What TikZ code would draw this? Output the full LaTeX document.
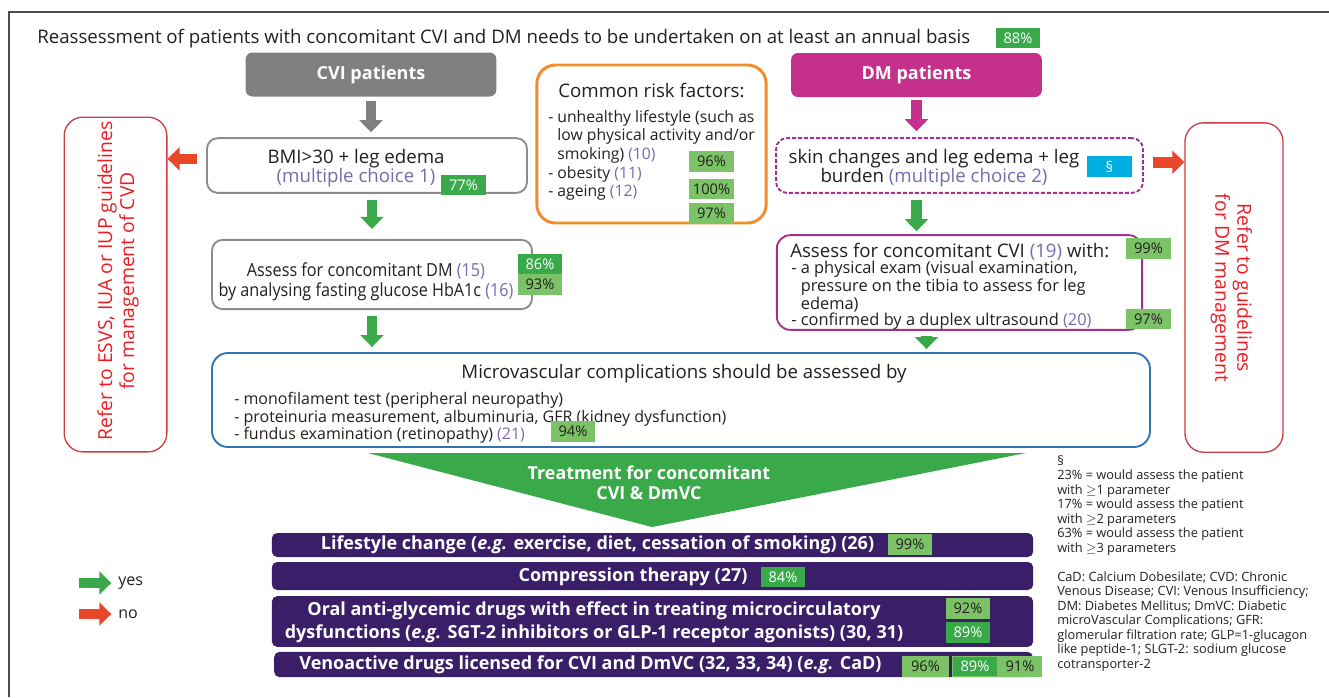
\documentclass[tikz,border=0pt]{standalone}
\usepackage{fontspec}
\setmainfont{Open Sans}
\usepackage{tikz}
\usetikzlibrary{arrows.meta}

\definecolor{grn}{RGB}{57,169,74}
\definecolor{lgrn}{RGB}{124,195,104}
\definecolor{redarr}{RGB}{234,70,40}
\definecolor{redtxt}{RGB}{237,28,36}
\definecolor{redbox}{RGB}{200,62,68}
\definecolor{purtxt}{RGB}{118,106,176}
\definecolor{boxgray}{RGB}{128,128,128}
\definecolor{lgray}{RGB}{140,140,140}
\definecolor{magbox}{RGB}{196,48,140}
\definecolor{magline}{RGB}{163,48,138}
\definecolor{bluebox}{RGB}{46,117,182}
\definecolor{orbox}{RGB}{242,140,40}
\definecolor{barpur}{RGB}{58,30,104}
\definecolor{cyanb}{RGB}{0,174,226}
\definecolor{txt}{RGB}{35,31,32}

\newcommand{\refno}[1]{\textcolor{purtxt}{#1}}

\begin{document}
\begin{tikzpicture}[x=0.75pt,y=0.75pt,yscale=-1,xscale=1,
  every node/.style={inner sep=0pt, text=txt},
  badge/.style={fill=grn, text=white, minimum width=33.5pt, minimum height=15.5pt, font=\fontsize{11}{12}\selectfont},
  lbadge/.style={badge, fill=lgrn, text=txt},
  box/.style={draw=lgray, line width=1.4pt, rounded corners=8pt},
  headbox/.style={rounded corners=5pt, minimum width=188pt, minimum height=33pt, text=white, font=\bfseries\fontsize{13.5}{16}\selectfont},
  refbox/.style={draw=redbox, line width=1pt, rounded corners=14pt},
  reftxt/.style={text=redtxt, align=center, font=\fontsize{14.5}{16.5}\selectfont},
  bar/.style={fill=barpur, rounded corners=4pt},
  bartxt/.style={text=white, font=\bfseries\fontsize{13.5}{17}\selectfont, align=center},
  blk/.style={line width=8pt, -{Triangle[width=17pt,length=9pt]}},
  bigtxt/.style={font=\fontsize{14}{14.25}\selectfont, align=center},
  smalltxt/.style={font=\fontsize{11.8}{14}\selectfont, align=left}
]
\useasboundingbox (0,0) rectangle (1329,697);
\draw[line width=1.2pt, black!70] (9,697) -- (9,12) -- (1329,12);

% title line
\node[anchor=west, font=\fontsize{14}{16}\selectfont] (title) at (37,39) {Reassessment of patients with concomitant CVI and DM needs to be undertaken on at least an annual basis};
\node[badge] (b88) at (1018,38) {88\%};

% patient groups
\node[headbox, fill=boxgray] (cvi) at (371,74.5) {CVI patients};
\node[headbox, fill=magbox] (dmp) at (916.5,75) {DM patients};

% CVI side
\node[box, minimum width=240pt, minimum height=41pt] (bmi) at (367,165.5) {};
\node[bigtxt] (bmitxt) at (356,168) {BMI>30 + leg edema\\\refno{(multiple choice 1)}};
\node[badge] (b77) at (463.5,185) {77\%};

\node[box, minimum width=240pt, minimum height=52pt] (dmass) at (372,274.5) {};
\node[bigtxt, font=\fontsize{13.5}{15}\selectfont\addfontfeatures{FakeStretch=0.9}] (dmtxt) at (366,282) {Assess for concomitant DM \refno{(15)}\\by analysing fasting glucose HbA1c \refno{(16)}};
\node[badge] (b86) at (540,264) {86\%};
\node[lbadge] (b93) at (540,284.5) {93\%};

\node[refbox, minimum width=77pt, minimum height=251pt] (refcvd) at (115.5,284.5) {};
\node[reftxt, rotate=90] (refcvdtxt) at (118,281) {Refer to ESVS, IUA or IUP guidelines\\for management of CVD};

% risk factors
\node[draw=orbox, line width=2.2pt, rounded corners=14pt, minimum width=172pt, minimum height=118.5pt] (risk) at (651.5,144) {};
\node[bigtxt] (risktit) at (651.5,90) {Common risk factors:};
\node[smalltxt, anchor=north west] (risklist) at (548,110) {- unhealthy lifestyle (such as\\\hphantom{- }low physical activity and/or\\\hphantom{- }smoking) \refno{(10)}\\- obesity \refno{(11)}\\- ageing \refno{(12)}};
\node[lbadge] (b96a) at (711.5,161.5) {96\%};
\node[lbadge] (b100) at (711.5,189) {100\%};
\node[lbadge] (b97a) at (711.5,213.5) {97\%};

% DM side
\node[draw=magline, dashed, dash pattern=on 3pt off 1.5pt, line width=1.4pt, rounded corners=8pt, minimum width=275pt, minimum height=41pt] (skin) at (959.5,165.5) {};
\node[bigtxt] (skintxt) at (934,168) {skin changes and leg edema + leg\\burden \refno{(multiple choice 2)}};
\node[badge, fill=cyanb] (bsec) at (1109.5,166.5) {\S};

\node[draw=magline, line width=1.4pt, rounded corners=10pt, minimum width=274pt, minimum height=71pt] (cviass) at (959.5,282.5) {};
\node[anchor=west, font=\fontsize{14}{16}\selectfont] (cvihead) at (790,252) {Assess for concomitant CVI \refno{(19)} with:};
\node[smalltxt, anchor=north west, font=\fontsize{12.3}{12}\selectfont] (cvilist) at (791,261) {- a physical exam (visual examination,\\\hphantom{- }pressure on the tibia to assess for leg\\\hphantom{- }edema)\\- confirmed by a duplex ultrasound \refno{(20)}};
\node[lbadge] (b99a) at (1148.5,248.5) {99\%};
\node[lbadge] (b97b) at (1148.5,319) {97\%};

\node[refbox, minimum width=73.5pt, minimum height=247pt] (refdm) at (1234,287.5) {};
\node[reftxt, rotate=-90] (refdmtxt) at (1231.5,288) {Refer to guidelines\\for DM management};

% microvascular
\node[draw=bluebox, line width=1.4pt, rounded corners=12pt, minimum width=703.5pt, minimum height=70.5pt] (micro) at (681,400) {};
\node[font=\fontsize{14}{16}\selectfont] (microtit) at (684,374) {Microvascular complications should be assessed by};
\node[smalltxt, anchor=north west, font=\fontsize{12}{13.2}\selectfont] (microlist) at (234,392) {- monofilament test (peripheral neuropathy)\\- proteinuria measurement, albuminuria, GFR (kidney dysfunction)\\- fundus examination (retinopathy) \refno{(21)}};
\node[lbadge] (b94) at (573,431.5) {94\%};

% arrows
\draw[blk, boxgray, shorten <=3pt, shorten >=3.75pt] (cvi.south) -- (cvi.south |- bmi.north);
\draw[blk, grn, shorten <=5pt, shorten >=7.5pt] (dmass.north |- bmi.south) -- (dmass.north);
\draw[blk, grn, shorten <=4.5pt, shorten >=3.75pt] (dmass.south) -- (dmass.south |- micro.north);
\draw[blk, magbox, shorten <=2.25pt, shorten >=4.5pt] (dmp.south) -- (dmp.south |- skin.north);
\draw[blk, grn, shorten <=4.5pt, shorten >=2.25pt] (dmp.south |- skin.south) -- (dmp.south |- cviass.north);
\draw[blk, grn, shorten <=3.75pt, shorten >=2.25pt] ([xshift=7.5pt]dmp.south |- cviass.south) -- ([xshift=7.5pt]dmp.south |- micro.north);
\draw[blk, redarr] ([xshift=-7pt,yshift=-5pt]bmi.west) -- ([yshift=-5pt]bmi.west -| refcvd.east);
\draw[blk, redarr] ([xshift=7pt,yshift=-2.5pt]skin.east) -- ([yshift=-2.5pt]skin.east -| refdm.west);

% treatment
\fill[grn] (368,453) -- (1026,453) -- (652,527) -- cycle;
\node[font=\bfseries\fontsize{13.4}{15}\selectfont, text=white, align=center] (treat) at (649,483) {Treatment for concomitant\\CVI \& DmVC};

\node[bar, minimum width=571pt, minimum height=18pt] (bar1) at (652.5,545) {};
\node[bartxt] (bar1txt) at (597.5,545) {Lifestyle change (\textit{e.g.} exercise, diet, cessation of smoking) (26)};
\node[lbadge] (b99b) at (910,544.5) {99\%};

\node[bar, minimum width=571pt, minimum height=21pt] (bar2) at (652.5,576) {};
\node[bartxt] (bar2txt) at (633,577) {Compression therapy (27)};
\node[badge] (b84) at (783,577) {84\%};

\node[bar, minimum width=571pt, minimum height=38pt] (bar3) at (652.5,621.5) {};
\node[bartxt] (bar3txt) at (594,622) {Oral anti-glycemic drugs with effect in treating microcirculatory\\dysfunctions (\textit{e.g.} SGT-2 inhibitors or GLP-1 receptor agonists) (30, 31)};
\node[lbadge] (b92) at (968,608.5) {92\%};
\node[badge] (b89a) at (968,632.5) {89\%};

\node[bar, minimum width=569pt, minimum height=19pt] (bar4) at (653.5,664.5) {};
\node[bartxt] (bar4txt) at (590.5,665) {Venoactive drugs licensed for CVI and DmVC (32, 33, 34) (\textit{e.g.} CaD)};
\node[lbadge, minimum width=35pt] (b96b) at (925.5,666.5) {96\%};
\node[badge, draw=lgrn, line width=0.8pt] (b89b) at (975,666.5) {89\%};
\node[lbadge] (b91) at (1020,666.5) {91\%};

% legend
\node[anchor=west, font=\fontsize{12}{14}\selectfont] (yes) at (118,583) {yes};
\node[anchor=west, font=\fontsize{12}{14}\selectfont] (no) at (118,614) {no};
\draw[blk, grn, line width=7pt] ([xshift=-29pt]yes.west) -- ([xshift=-5pt]yes.west);
\draw[blk, redarr, line width=7pt] ([xshift=-29pt]no.west) -- ([xshift=-5pt]no.west);

% notes
\node[anchor=north west, align=left, font=\fontsize{9.6}{10.9}\selectfont] (notes) at (1057,455) {\S\\23\% = would assess the patient\\with $\geq$1 parameter\\17\% = would assess the patient\\with $\geq$2 parameters\\63\% = would assess the patient\\with $\geq$3 parameters\\[10.9pt]CaD: Calcium Dobesilate; CVD: Chronic\\Venous Disease; CVI: Venous Insufficiency;\\DM: Diabetes Mellitus; DmVC: Diabetic\\microVascular Complications; GFR:\\glomerular filtration rate; GLP=1-glucagon\\like peptide-1; SLGT-2: sodium glucose\\cotransporter-2};
\end{tikzpicture}
\end{document}
